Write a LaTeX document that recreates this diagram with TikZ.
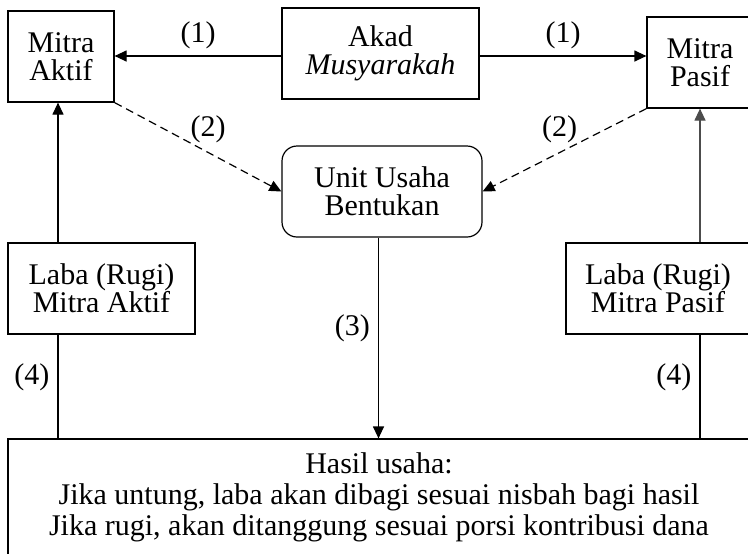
\documentclass[tikz,border=0pt]{standalone}
\usepackage{fontspec}
\setmainfont{Liberation Serif}
\usetikzlibrary{arrows.meta}

\begin{document}
\begin{tikzpicture}[x=0.5pt,y=-0.5pt,>={Triangle[length=6pt,width=5.5pt]},
  line width=0.6pt,
  box/.style={draw,align=center,inner sep=2pt,font=\fontsize{15}{14}\selectfont},
  num/.style={inner sep=1pt,font=\fontsize{15}{14}\selectfont}] % px coordinates

  \useasboundingbox (0,0) rectangle (748,553);

  \node[box,minimum width=53pt,minimum height=45.5pt](mitraA) at (61,56.5) {Mitra\\Aktif};
  \node[box,minimum width=98.5pt,minimum height=45.5pt](akad) at (380.5,53.5) {Akad\\\textit{Musyarakah}};
  \node[box,minimum width=53pt,minimum height=45.5pt](mitraP) at (700,62.5) {Mitra\\Pasif};
  \node[box,rounded corners=7.5pt,minimum width=100pt,minimum height=45.5pt](unit) at (382,191.5) {Unit Usaha\\Bentukan};
  \node[box,minimum width=93.5pt,minimum height=45.5pt](labaA) at (101.5,288.5) {Laba (Rugi)\\Mitra Aktif};
  \node[box,minimum width=92pt,minimum height=45.5pt](labaP) at (658,288.5) {Laba (Rugi)\\Mitra Pasif};
  \node[box,font=\fontsize{15}{15.5}\selectfont,minimum width=371pt,minimum height=58.5pt](hasil) at (379,497.5)
    {Hasil usaha:\\Jika untung, laba akan dibagi sesuai nisbah bagi hasil\\Jika rugi, akan ditanggung sesuai porsi kontribusi dana};

  \draw[->] (akad.west) ++(0,2.5) coordinate (k) -- (k -| mitraA.east) node[num,midway,above=2.5pt]{(1)};
  \draw[->] (akad.east) ++(0,2.5) coordinate (m) -- (m -| mitraP.west) node[num,midway,above=2.5pt]{(1)};
  \draw[->,dashed,dash pattern=on 4pt off 2.5pt] (mitraA.south east) -- (unit.west) node[num,pos=.56,above=3.5pt]{(2)};
  \draw[->,dashed,dash pattern=on 4pt off 2.5pt] (mitraP.south west) -- (unit.east) node[num,pos=.53,above=3.5pt]{(2)};
  \draw[->] (unit.south -| akad.south) ++(-2,0) coordinate (u) -- (u |- hasil.north) node[num,pos=.45,left=3pt]{(3)};
  \draw[->] (labaA.north -| mitraA.south) ++(-3,0) coordinate (a) -- (a |- mitraA.south);
  \draw[->,black!70] (labaP.north -| mitraP.south) -- (mitraP.south);
  \draw (labaA.south -| a) -- (hasil.north -| a) node[num,pos=.41,left=3pt]{(4)};
  \draw (labaP.south -| mitraP.south) -- (hasil.north -| mitraP.south) node[num,pos=.41,left=3pt]{(4)};

\end{tikzpicture}
\end{document}
